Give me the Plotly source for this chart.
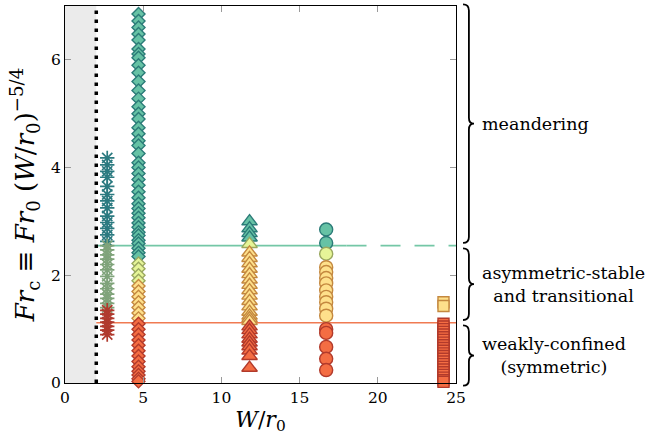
import plotly.graph_objects as go

# ---------------- data ----------------
x_ticks = [0, 5, 10, 15, 20, 25]
y_ticks = [0, 2, 4, 6]

# W/r0 positions of the five channel widths
W_star, W_diam, W_tri, W_circ, W_sq = 2.7, 4.7, 11.8, 16.7, 24.2

# regime thresholds
W_min = 2.0          # shaded region limit
Fr_upper = 2.55      # meandering threshold
Fr_lower = 1.12      # weakly-confined threshold
W_solid_end = 18.0   # where the upper threshold becomes dashed

star_meander = [4.18, 4.05, 3.93, 3.82, 3.65, 3.5, 3.38, 3.25, 3.1, 2.98, 2.87, 2.75, 2.63]
star_trans = [2.55, 2.47, 2.38, 2.3, 2.2, 2.1, 1.98, 1.85, 1.75, 1.65, 1.57, 1.48, 1.4]
star_weak = [1.35, 1.28, 1.2, 1.13, 1.05, 0.98, 0.9]

diam_meander = [6.85, 6.72, 6.6, 6.48, 6.37, 6.2, 6.11, 6.04, 5.9, 5.76, 5.6, 5.43, 5.28,
                5.13, 5.0, 4.9, 4.74, 4.63, 4.5, 4.41, 4.26, 4.09, 4.0, 3.89, 3.78, 3.67,
                3.55, 3.44, 3.33, 3.24, 3.15, 3.07, 2.97, 2.89, 2.8, 2.74, 2.65, 2.59,
                2.5, 2.42, 2.35]
diam_asym = [2.22, 2.12, 2.0, 1.9]
diam_trans = [1.8, 1.7, 1.6, 1.5, 1.4, 1.3, 1.2]
diam_weak = [1.1, 1.0, 0.9, 0.8, 0.7, 0.6, 0.5, 0.4, 0.3, 0.22, 0.15, 0.08, 0.03]

tri_meander = [3.0, 2.87, 2.78, 2.7]
tri_asym = [2.58]
tri_trans = [2.42, 2.32, 2.22, 2.12, 2.02, 1.92, 1.82, 1.72, 1.62, 1.52, 1.42, 1.32,
             1.25, 1.2, 1.15]
tri_weak = [1.05, 0.98, 0.9, 0.82, 0.75, 0.68, 0.6, 0.5, 0.28]

circ_meander = [2.85, 2.6]
circ_asym = [2.4]
circ_trans = [2.15, 2.06, 1.95, 1.85, 1.72, 1.6, 1.5, 1.38, 1.25]
circ_weak = [1.0, 0.93, 0.67, 0.45, 0.24]

sq_trans = [1.5, 1.43]
sq_weak = [1.1, 1.05, 1.0, 0.95, 0.9, 0.85, 0.8, 0.75, 0.7, 0.65, 0.6, 0.55, 0.5,
           0.45, 0.4, 0.35, 0.3, 0.25, 0.2, 0.15, 0.1, 0.05, 0.02]

regime_labels = ["meandering", "asymmetric-stable<br>and transitional",
                 "weakly-confined<br>(symmetric)"]

# ---------------- styles ----------------
FILL = {"meander": "#66c2a5", "asym": "#e6f598", "trans": "#fee08b", "weak": "#f46d43"}
EDGE = {"meander": "#2b7b78", "asym": "#9aa860", "trans": "#c4883f", "weak": "#b23a2b"}
STAR = {"meander": "#2b7a80", "trans": "#7fa37a", "weak": "#b03a2e"}
FONT = "DejaVu Serif"

fig = go.Figure()

# shaded region + dotted limit
fig.add_shape(type="rect", xref="x", yref="y", x0=0, x1=W_min, y0=0, y1=7,
              fillcolor="#ebebeb", line_width=0, layer="below")

# threshold lines
fig.add_trace(go.Scatter(x=[W_min, W_solid_end], y=[Fr_upper, Fr_upper], mode="lines",
                         line=dict(color="#74c7a6", width=1.8), hoverinfo="skip"))
fig.add_trace(go.Scatter(x=[W_solid_end, 25], y=[Fr_upper, Fr_upper], mode="lines",
                         line=dict(color="#74c7a6", width=1.8, dash="20px,14px"),
                         hoverinfo="skip"))
fig.add_trace(go.Scatter(x=[W_min, 25], y=[Fr_lower, Fr_lower], mode="lines",
                         line=dict(color="#f07a52", width=1.6), hoverinfo="skip"))
fig.add_trace(go.Scatter(x=[W_min, W_min], y=[0, 7], mode="lines",
                         line=dict(color="black", width=3.5, dash="3.5px,5.5px"),
                         hoverinfo="skip"))


def add_col(xv, ys, symbol, size, reg, edge_w=1.4):
    fig.add_trace(go.Scatter(
        x=[xv] * len(ys), y=ys, mode="markers", cliponaxis=False,
        marker=dict(symbol=symbol, size=size, color=FILL[reg],
                    line=dict(color=EDGE[reg], width=edge_w))))


def add_star(xv, ys, reg):
    fig.add_trace(go.Scatter(
        x=[xv] * len(ys), y=ys, mode="markers", cliponaxis=False,
        marker=dict(symbol="asterisk-open", size=12, color=STAR[reg],
                    line=dict(color=STAR[reg], width=1.7))))


add_star(W_star, star_meander, "meander")
add_star(W_star, star_trans, "trans")
add_star(W_star, star_weak, "weak")

for reg, ys in [("meander", diam_meander), ("asym", diam_asym),
                ("trans", diam_trans), ("weak", diam_weak)]:
    add_col(W_diam, ys, "diamond", 10, reg)

for reg, ys in [("meander", tri_meander), ("asym", tri_asym),
                ("trans", tri_trans), ("weak", tri_weak)]:
    add_col(W_tri, ys, "triangle-up", 13.5, reg)

for reg, ys in [("meander", circ_meander), ("asym", circ_asym),
                ("trans", circ_trans), ("weak", circ_weak)]:
    add_col(W_circ, ys, "circle", 13, reg)

for reg, ys in [("trans", sq_trans), ("weak", sq_weak)]:
    add_col(W_sq, ys, "square", 11, reg)

# ---------------- braces and regime labels ----------------
YMAX = 7.0


def brace_path(v0, v1, x0=1.018, xm=1.033, xt=1.046, r=0.016):
    a, b = v0 / YMAX, v1 / YMAX
    m = (a + b) / 2
    return (f"M{x0},{b} Q{xm},{b} {xm},{b - r} L{xm},{m + r} "
            f"Q{xm},{m} {xt},{m} Q{xm},{m} {xm},{m - r} L{xm},{a + r} "
            f"Q{xm},{a} {x0},{a}")


ranges = [(Fr_upper + 0.05, YMAX + 0.03), (Fr_lower + 0.05, Fr_upper - 0.05),
          (-0.05, Fr_lower - 0.05)]
for (v0, v1), lab in zip(ranges, regime_labels):
    fig.add_shape(type="path", xref="paper", yref="paper", path=brace_path(v0, v1),
                  line=dict(color="black", width=1.8))
    fig.add_annotation(x=1.062, xref="paper", y=(v0 + v1) / 2, yref="y", text=lab,
                       showarrow=False, xanchor="left", yanchor="middle", align="center",
                       font=dict(family=FONT, size=17.5, color="black"))

axis_common = dict(showline=True, linecolor="black", linewidth=1.2, mirror="ticks",
                   ticks="inside", ticklen=6, tickcolor="#9a9a9a", tickwidth=1,
                   showgrid=False, zeroline=False,
                   tickfont=dict(family=FONT, size=15.5, color="black"))

fig.update_layout(
    width=650, height=436,
    margin=dict(l=65, r=194, t=6, b=53),
    plot_bgcolor="white", paper_bgcolor="white",
    showlegend=False,
    font=dict(family=FONT),
    xaxis=dict(range=[0, 25], tickvals=x_ticks, **axis_common,
               title=dict(text="<i>W</i>/<i>r</i><sub>0</sub>", standoff=5,
                          font=dict(family=FONT, size=22, color="black"))),
    yaxis=dict(range=[0, YMAX], tickvals=y_ticks, **axis_common,
               title=dict(text="<i>Fr</i><sub>c</sub> ≡ <i>Fr</i><sub>0</sub> "
                               "(<i>W</i>/<i>r</i><sub>0</sub>)<sup>−5/4</sup>",
                          standoff=8,
                          font=dict(family=FONT, size=26, color="black"))),
)

fig.write_html("out.html")
